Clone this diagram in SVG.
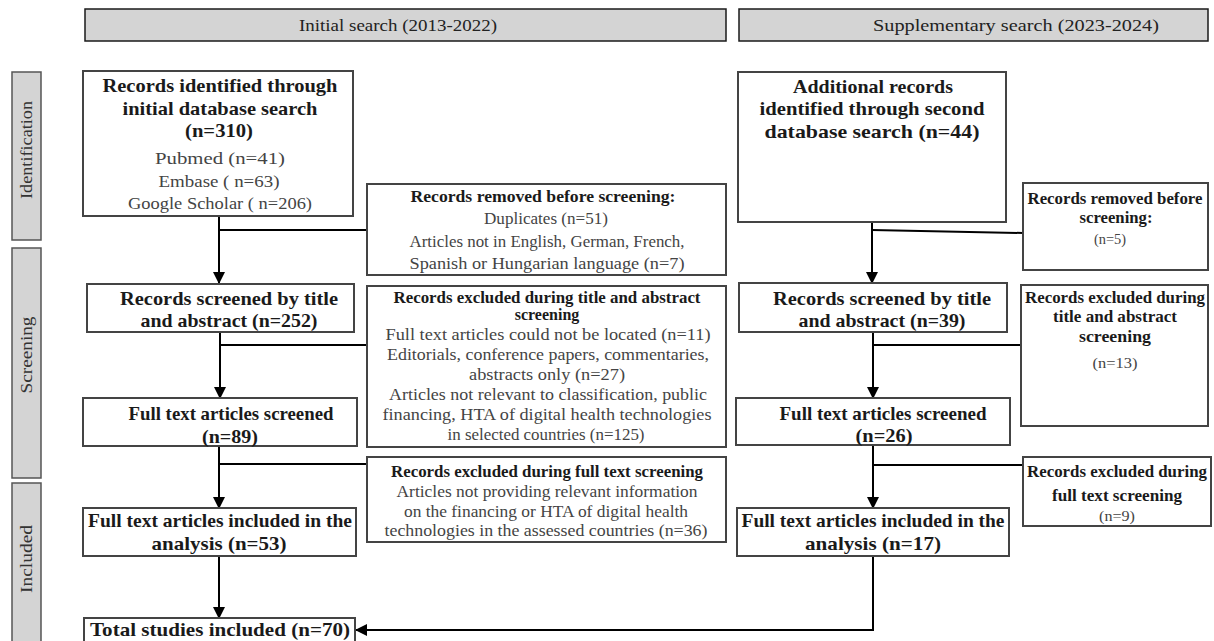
<svg xmlns="http://www.w3.org/2000/svg" width="1214" height="641" viewBox="0 0 1214 641">
<style>
.hdr{fill:#d4d4d4;stroke:#1a1a1a;stroke-width:1.5}
.side{fill:#d4d4d4;stroke:#555;stroke-width:1.5}
.box{fill:#fff;stroke:#444;stroke-width:2}
.t{font-family:"Liberation Serif","Times New Roman",serif;text-anchor:middle}
.b{font-weight:bold;fill:#1a1a1a}
.n{fill:#444}
.L{font-size:19px}
.M{font-size:17px}
.S{font-size:16px}
.conn{stroke:#000;stroke-width:2;fill:none}
</style>
<defs>
<marker id="arr" markerWidth="12" markerHeight="12" refX="11" refY="6" orient="auto" markerUnits="userSpaceOnUse">
<path d="M0,0 L12,6 L0,12 Z" fill="#000"/>
</marker>
</defs>

<g id="header-initial">
<rect class="hdr" x="85" y="9" width="641" height="32"/>
<text class="t M" x="398" y="31" fill="#222" textLength="198" lengthAdjust="spacingAndGlyphs">Initial search (2013-2022)</text>
</g>
<g id="header-supp">
<rect class="hdr" x="739" y="9" width="469" height="32"/>
<text class="t M" x="1016" y="31" fill="#222" textLength="286" lengthAdjust="spacingAndGlyphs">Supplementary search (2023-2024)</text>
</g>

<g id="side-identification">
<rect class="side" x="12" y="72" width="29" height="168"/>
<text class="t M" fill="#333" transform="translate(32,150) rotate(-90)" textLength="98" lengthAdjust="spacingAndGlyphs">Identification</text>
</g>
<g id="side-screening">
<rect class="side" x="12" y="248" width="29" height="230"/>
<text class="t M" fill="#333" transform="translate(32,355) rotate(-90)" textLength="77" lengthAdjust="spacingAndGlyphs">Screening</text>
</g>
<g id="side-included">
<rect class="side" x="12" y="483" width="29" height="170"/>
<text class="t M" fill="#333" transform="translate(32,559) rotate(-90)" textLength="68" lengthAdjust="spacingAndGlyphs">Included</text>
</g>

<g id="connectors">
<polyline class="conn" points="219,216 219,283" marker-end="url(#arr)"/>
<line class="conn" x1="219" y1="230" x2="367" y2="230"/>
<polyline class="conn" points="220,332 220,398" marker-end="url(#arr)"/>
<line class="conn" x1="220" y1="345" x2="367" y2="345"/>
<polyline class="conn" points="219,446 219,508" marker-end="url(#arr)"/>
<line class="conn" x1="219" y1="464" x2="367" y2="464"/>
<polyline class="conn" points="219,556 219,618" marker-end="url(#arr)"/>

<polyline class="conn" points="872,217 872,283" marker-end="url(#arr)"/>
<line class="conn" x1="872" y1="230" x2="1023" y2="233"/>
<polyline class="conn" points="873,332 873,398" marker-end="url(#arr)"/>
<line class="conn" x1="873" y1="345" x2="1021" y2="345"/>
<polyline class="conn" points="873,445 873,508" marker-end="url(#arr)"/>
<line class="conn" x1="873" y1="465" x2="1023" y2="465"/>
<polyline class="conn" points="873,556 873,630 356,630" marker-end="url(#arr)"/>
</g>

<g id="n-identified">
<rect class="box" x="83" y="71" width="270" height="145"/>
<text class="t b L" x="220" y="92" textLength="235" lengthAdjust="spacingAndGlyphs">Records identified through</text>
<text class="t b L" x="220" y="115" textLength="195" lengthAdjust="spacingAndGlyphs">initial database search</text>
<text class="t b L" x="219" y="137" textLength="68" lengthAdjust="spacingAndGlyphs">(n=310)</text>
<text class="t n M" x="220" y="164" textLength="130" lengthAdjust="spacingAndGlyphs">Pubmed (n=41)</text>
<text class="t n M" x="219" y="187" textLength="121" lengthAdjust="spacingAndGlyphs">Embase ( n=63)</text>
<text class="t n M" x="220" y="209" textLength="184" lengthAdjust="spacingAndGlyphs">Google Scholar ( n=206)</text>
</g>

<g id="n-removed">
<rect class="box" x="367" y="184" width="359" height="91"/>
<text class="t b S" x="543" y="202" textLength="265" lengthAdjust="spacingAndGlyphs">Records removed before screening:</text>
<text class="t n S" x="546" y="224" textLength="124" lengthAdjust="spacingAndGlyphs">Duplicates (n=51)</text>
<text class="t n S" x="547" y="247" textLength="275" lengthAdjust="spacingAndGlyphs">Articles not in English, German, French,</text>
<text class="t n S" x="547" y="269" textLength="275" lengthAdjust="spacingAndGlyphs">Spanish or Hungarian language (n=7)</text>
</g>

<g id="n-screened">
<rect class="box" x="87" y="284" width="267" height="48"/>
<text class="t b L" x="229" y="305" textLength="218" lengthAdjust="spacingAndGlyphs">Records screened by title</text>
<text class="t b L" x="229" y="327" textLength="177" lengthAdjust="spacingAndGlyphs">and abstract (n=252)</text>
</g>

<g id="n-excluded-ta">
<rect class="box" x="367" y="286" width="359" height="161"/>
<text class="t b S" x="547" y="303" textLength="307" lengthAdjust="spacingAndGlyphs">Records excluded during title and abstract</text>
<text class="t b S" x="547" y="320">screening</text>
<text class="t n S" x="548" y="340" textLength="325" lengthAdjust="spacingAndGlyphs">Full text articles could not be located (n=11)</text>
<text class="t n S" x="548" y="360" textLength="322" lengthAdjust="spacingAndGlyphs">Editorials, conference papers, commentaries,</text>
<text class="t n S" x="547" y="380" textLength="156" lengthAdjust="spacingAndGlyphs">abstracts only (n=27)</text>
<text class="t n S" x="548" y="400" textLength="318" lengthAdjust="spacingAndGlyphs">Articles not relevant to classification, public</text>
<text class="t n S" x="547" y="420" textLength="329" lengthAdjust="spacingAndGlyphs">financing, HTA of digital health technologies</text>
<text class="t n S" x="546" y="440" textLength="197" lengthAdjust="spacingAndGlyphs">in selected countries (n=125)</text>
</g>

<g id="n-fulltext">
<rect class="box" x="83" y="398" width="274" height="48"/>
<text class="t b L" x="231" y="420" textLength="205" lengthAdjust="spacingAndGlyphs">Full text articles screened</text>
<text class="t b L" x="230" y="443" textLength="56" lengthAdjust="spacingAndGlyphs">(n=89)</text>
</g>

<g id="n-excluded-ft">
<rect class="box" x="367" y="457" width="359" height="85"/>
<text class="t b S" x="547" y="477" textLength="312" lengthAdjust="spacingAndGlyphs">Records excluded during full text screening</text>
<text class="t n S" x="547" y="497" textLength="301" lengthAdjust="spacingAndGlyphs">Articles not providing relevant information</text>
<text class="t n S" x="546" y="517" textLength="284" lengthAdjust="spacingAndGlyphs">on the financing or HTA of digital health</text>
<text class="t n S" x="546" y="536" textLength="323" lengthAdjust="spacingAndGlyphs">technologies in the assessed countries    (n=36)</text>
</g>

<g id="n-included">
<rect class="box" x="83" y="508" width="273" height="48"/>
<text class="t b L" x="220" y="527" textLength="264" lengthAdjust="spacingAndGlyphs">Full text articles included in the</text>
<text class="t b L" x="219" y="550" textLength="135" lengthAdjust="spacingAndGlyphs">analysis (n=53)</text>
</g>

<g id="n-total">
<rect class="box" x="84" y="618" width="271" height="30"/>
<text class="t b L" x="220" y="636" textLength="260" lengthAdjust="spacingAndGlyphs">Total studies included (n=70)</text>
</g>

<g id="n-additional">
<rect class="box" x="738" y="72" width="268" height="150"/>
<text class="t b L" x="873" y="93" textLength="160" lengthAdjust="spacingAndGlyphs">Additional records</text>
<text class="t b L" x="872" y="115" textLength="225" lengthAdjust="spacingAndGlyphs">identified through second</text>
<text class="t b L" x="872" y="138" textLength="215" lengthAdjust="spacingAndGlyphs">database search (n=44)</text>
</g>

<g id="n-removed-2">
<rect class="box" x="1023" y="183" width="185" height="87"/>
<text class="t b S" x="1115" y="204" textLength="175" lengthAdjust="spacingAndGlyphs">Records removed before</text>
<text class="t b S" x="1116" y="223" textLength="73" lengthAdjust="spacingAndGlyphs">screening:</text>
<text class="t n" x="1110" y="244" font-size="15" textLength="32" lengthAdjust="spacingAndGlyphs">(n=5)</text>
</g>

<g id="n-screened-2">
<rect class="box" x="739" y="283" width="268" height="49"/>
<text class="t b L" x="882" y="305" textLength="218" lengthAdjust="spacingAndGlyphs">Records screened by title</text>
<text class="t b L" x="882" y="327" textLength="167" lengthAdjust="spacingAndGlyphs">and abstract (n=39)</text>
</g>

<g id="n-excluded-ta-2">
<rect class="box" x="1021" y="285" width="187" height="141"/>
<text class="t b S" x="1115" y="303" textLength="180" lengthAdjust="spacingAndGlyphs">Records excluded during</text>
<text class="t b S" x="1115" y="322" textLength="124" lengthAdjust="spacingAndGlyphs">title and abstract</text>
<text class="t b S" x="1115" y="342" textLength="72" lengthAdjust="spacingAndGlyphs">screening</text>
<text class="t n" x="1115" y="368" font-size="15" textLength="45" lengthAdjust="spacingAndGlyphs">(n=13)</text>
</g>

<g id="n-fulltext-2">
<rect class="box" x="736" y="398" width="274" height="47"/>
<text class="t b L" x="883" y="420" textLength="207" lengthAdjust="spacingAndGlyphs">Full text articles screened</text>
<text class="t b L" x="884" y="442" textLength="57" lengthAdjust="spacingAndGlyphs">(n=26)</text>
</g>

<g id="n-excluded-ft-2">
<rect class="box" x="1023" y="457" width="188" height="69"/>
<text class="t b S" x="1117" y="477" textLength="180" lengthAdjust="spacingAndGlyphs">Records excluded during</text>
<text class="t b S" x="1117" y="501" textLength="130" lengthAdjust="spacingAndGlyphs">full text screening</text>
<text class="t n" x="1117" y="521" font-size="15" textLength="36" lengthAdjust="spacingAndGlyphs">(n=9)</text>
</g>

<g id="n-included-2">
<rect class="box" x="737" y="508" width="272" height="48"/>
<text class="t b L" x="873" y="527" textLength="263" lengthAdjust="spacingAndGlyphs">Full text articles included in the</text>
<text class="t b L" x="873" y="550" textLength="136" lengthAdjust="spacingAndGlyphs">analysis (n=17)</text>
</g>
</svg>
